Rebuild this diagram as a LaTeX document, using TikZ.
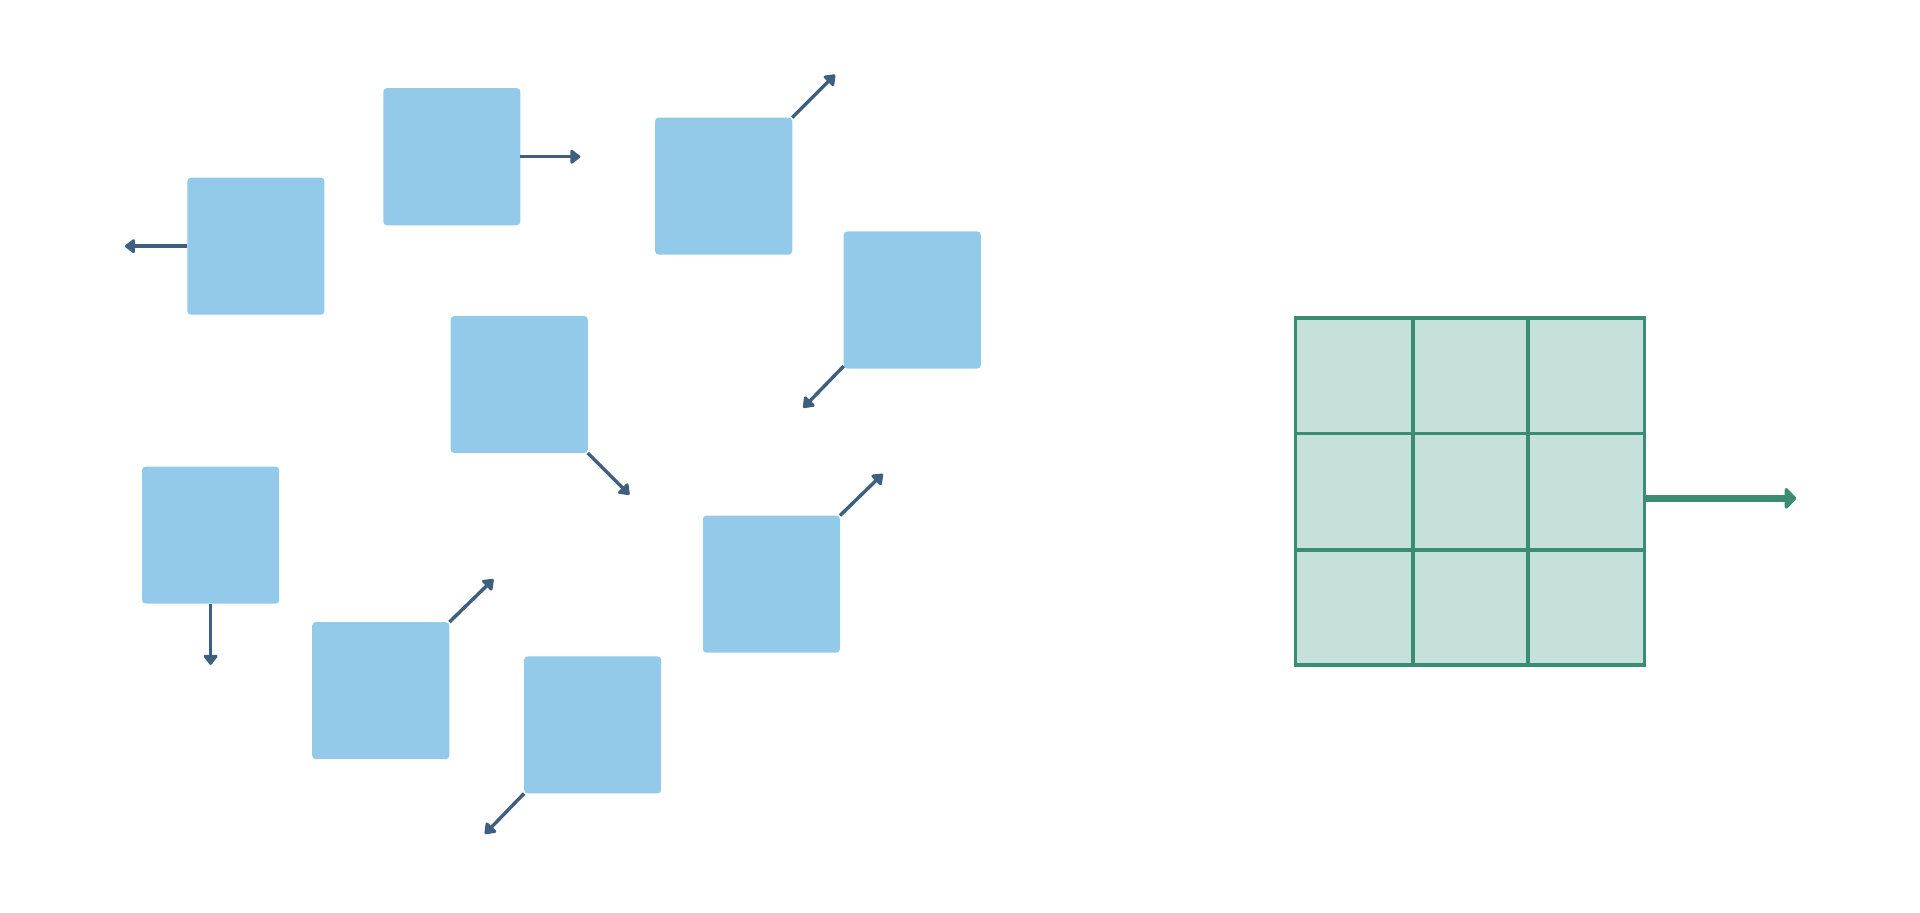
\documentclass[tikz,border=0pt]{standalone}
\usetikzlibrary{arrows.meta}
\definecolor{boxc}{HTML}{94CAE9}
\definecolor{arrc}{HTML}{3F5F80}
\definecolor{grc}{HTML}{3A8C72}
\definecolor{grf}{HTML}{C6E1DC}
\begin{document}
\begin{tikzpicture}[x=0.5pt,y=-0.5pt,
  box/.style={fill=boxc,draw=none,rounded corners=1.5pt,minimum width=56pt,minimum height=56pt,inner sep=0pt,outer sep=0pt},
  arr/.style={draw=arrc,line width=1.4pt,-{Triangle[round,length=4.5pt,width=6.5pt]}},
  garr/.style={draw=grc,line width=3pt,-{Triangle[round,length=5pt,width=10pt]}}]
\useasboundingbox (0,0) rectangle (1568,745);
\node[box] (b1) at (209,201) {};
\node[box] (b2) at (369,128) {};
\node[box] (b3) at (591,152) {};
\node[box] (b4) at (745,245) {};
\node[box] (b5) at (424,314) {};
\node[box] (b6) at (172,437) {};
\node[box] (b7) at (630,477) {};
\node[box] (b8) at (311,564) {};
\node[box] (b9) at (484,592) {};
\coordinate (e1) at (102,201);
\coordinate (e2) at (474,128);
\coordinate (e3) at (682,61);
\coordinate (e4) at (656,333);
\coordinate (e5) at (514,404);
\coordinate (e6) at (172,543);
\coordinate (e7) at (721,387);
\coordinate (e8) at (403,473);
\coordinate (e9) at (396,681);
\draw[arr] (b1.west) -- (e1);
\draw[arr] (b2.east) -- (e2);
\draw[arr] (b3.north east) -- (e3);
\draw[arr] ([yshift=1pt]b4.south west) -- (e4);
\draw[arr] (b5.south east) -- (e5);
\draw[arr] (b6.south) -- (e6);
\draw[arr] (b7.north east) -- (e7);
\draw[arr] (b8.north east) -- (e8);
\draw[arr] (b9.south west) -- (e9);
\node[draw=grc,fill=grf,line width=1.6pt,minimum width=142.5pt,minimum height=141.5pt,inner sep=0pt] (g) at (1200.5,401.5) {};
\draw[grc,line width=1.6pt] (1154,260) -- (1154,543) (1248,260) -- (1248,543)
  (1058,354) -- (1343,354) (1058,449) -- (1343,449);
\coordinate (ge) at (1467,407);
\draw[garr] (g.east |- ge) -- (ge);
\end{tikzpicture}
\end{document}
